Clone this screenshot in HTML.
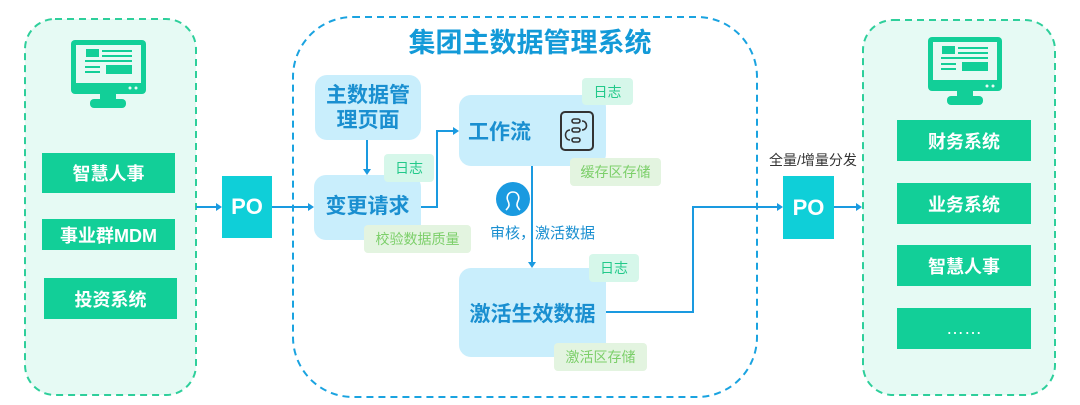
<!DOCTYPE html>
<html><head><meta charset="utf-8"><style>
body{margin:0;width:1080px;height:405px;background:#fff;position:relative;overflow:hidden;font-family:"Liberation Sans","Noto Sans CJK SC",sans-serif}
.a{position:absolute;box-sizing:border-box}
.btn{background:#12cf98;color:#fff;font-weight:bold;font-size:18px;display:flex;align-items:center;justify-content:center}
.po{background:#0fcfd8;color:#fff;font-weight:bold;font-size:22px;display:flex;align-items:center;justify-content:center}
.node{background:#c9eefc;color:#1a8fd0;font-weight:bold;border-radius:12px;display:flex;align-items:center;justify-content:center;text-align:center}
.log{background:#d6f7ea;color:#22c98a;font-size:14px;border-radius:4px;display:flex;align-items:center;justify-content:center}
.st{background:#e3f4e0;color:#7ccf6a;font-size:14px;border-radius:4px;display:flex;align-items:center;justify-content:center}
</style></head><body>
<svg class="a" style="left:0;top:0" width="1080" height="405">
<rect x="25" y="19" width="171" height="376" rx="30" fill="#e6faf4" stroke="#2ecf9b" stroke-width="2" stroke-dasharray="7,5"/>
<rect x="863" y="20" width="192" height="375" rx="30" fill="#e6faf4" stroke="#2ecf9b" stroke-width="2" stroke-dasharray="7,5"/>
<rect x="293" y="17" width="464" height="380" rx="60" fill="none" stroke="#1aa3e0" stroke-width="2" stroke-dasharray="7,5"/>
<g fill="#12cf98">
<rect x="71" y="40" width="75" height="54" rx="4"/><rect x="100" y="92" width="16" height="10"/><rect x="90" y="99" width="36" height="9" rx="4"/>
<rect x="928" y="37" width="74" height="54" rx="4"/><rect x="957" y="89" width="16" height="10"/><rect x="947" y="96" width="36" height="9" rx="4"/>
</g>
<g fill="#e6faf4">
<rect x="76" y="45" width="65" height="38"/><rect x="933" y="42" width="64" height="38"/>
</g>
<g fill="#12cf98">
<rect x="86" y="49" width="13" height="8"/><rect x="102" y="50" width="30" height="2"/><rect x="102" y="55" width="30" height="2"/><rect x="85" y="60" width="47" height="2"/><rect x="85" y="66" width="15" height="2"/><rect x="85" y="71" width="15" height="2"/><rect x="106" y="65" width="26" height="9"/>
<rect x="942" y="46" width="13" height="8"/><rect x="958" y="47" width="30" height="2"/><rect x="958" y="52" width="30" height="2"/><rect x="941" y="57" width="47" height="2"/><rect x="941" y="63" width="15" height="2"/><rect x="941" y="68" width="15" height="2"/><rect x="962" y="62" width="26" height="9"/>
</g>
<circle cx="987" cy="86" r="1.5" fill="#e6faf4"/><circle cx="993" cy="86" r="1.5" fill="#e6faf4"/>
<circle cx="130" cy="88" r="1.5" fill="#e6faf4"/><circle cx="136" cy="88" r="1.5" fill="#e6faf4"/>
<g stroke="#1a9ae0" stroke-width="2" fill="none">
<path d="M196 207H218"/><path d="M272 207H310"/><path d="M367 140V171"/>
<path d="M421 207H437V131H455"/><path d="M532 166V264"/>
<path d="M606 312H693V207H779"/><path d="M834 207H858"/>
</g>
<g fill="#1a9ae0">
<path d="M222 207l-6-4v8z"/><path d="M314 207l-6-4v8z"/><path d="M367 175l-4-6h8z"/><path d="M459 131l-6-4v8z"/><path d="M532 268l-4-6h8z"/><path d="M783 207l-6-4v8z"/><path d="M862 207l-6-4v8z"/>
</g>
<circle cx="513" cy="199" r="17" fill="#1a9ae0"/>
<path d="M506 210c3-3 4-5 2-9c-2-4 0-9 5-9s7 5 5 9c-2 4-1 6 2 9" stroke="#fff" stroke-width="1.6" fill="none"/>
</svg>
<div class="a btn" style="left:42px;top:153px;width:133px;height:40px">智慧人事</div>
<div class="a btn" style="left:42px;top:219px;width:133px;height:31px">事业群MDM</div>
<div class="a btn" style="left:44px;top:278px;width:133px;height:41px">投资系统</div>
<div class="a po" style="left:222px;top:176px;width:50px;height:62px">PO</div>
<div class="a po" style="left:783px;top:176px;width:51px;height:63px">PO</div>
<div class="a" style="left:763px;top:150px;width:100px;font-size:14px;color:#333;text-align:center">全量/增量分发</div>
<div class="a btn" style="left:897px;top:120px;width:134px;height:41px">财务系统</div>
<div class="a btn" style="left:897px;top:183px;width:134px;height:41px">业务系统</div>
<div class="a btn" style="left:897px;top:245px;width:134px;height:41px">智慧人事</div>
<div class="a btn" style="left:897px;top:308px;width:134px;height:41px;font-weight:normal">……</div>
<div class="a" style="left:380px;top:27px;width:300px;text-align:center;font-size:27px;font-weight:bold;color:#139ad8;line-height:32px">集团主数据管理系统</div>
<div class="a node" style="left:315px;top:75px;width:106px;height:65px;font-size:21px;line-height:25px;padding:0 8px">主数据管理页面</div>
<div class="a node" style="left:314px;top:175px;width:107px;height:65px;font-size:21px;padding-bottom:6px">变更请求</div>
<div class="a log" style="left:384px;top:154px;width:50px;height:28px">日志</div>
<div class="a st" style="left:364px;top:225px;width:107px;height:28px">校验数据质量</div>
<div class="a node" style="left:459px;top:95px;width:147px;height:71px;font-size:21px;justify-content:flex-start;padding-left:9px">工作流</div>
<svg class="a" style="left:560px;top:111px" width="34" height="40"><rect x="1" y="1" width="32" height="38" rx="4" fill="none" stroke="#333" stroke-width="2"/><g fill="none" stroke="#333" stroke-width="1.6"><rect x="12" y="8" width="8" height="4" rx="2"/><rect x="12" y="17" width="8" height="4" rx="2"/><rect x="12" y="27" width="8" height="4" rx="2"/><path d="M22 10c6 0 6 9 0 9M10 19c-6 0-6 10 0 10"/></g></svg>
<div class="a log" style="left:582px;top:78px;width:51px;height:27px">日志</div>
<div class="a st" style="left:570px;top:158px;width:91px;height:28px">缓存区存储</div>
<div class="a" style="left:490px;top:222px;width:120px;font-size:15px;color:#1a8fd0">审核，激活数据</div>
<div class="a node" style="left:459px;top:268px;width:147px;height:89px;font-size:21px">激活生效数据</div>
<div class="a log" style="left:589px;top:254px;width:50px;height:28px">日志</div>
<div class="a st" style="left:554px;top:343px;width:93px;height:28px">激活区存储</div>
</body></html>
